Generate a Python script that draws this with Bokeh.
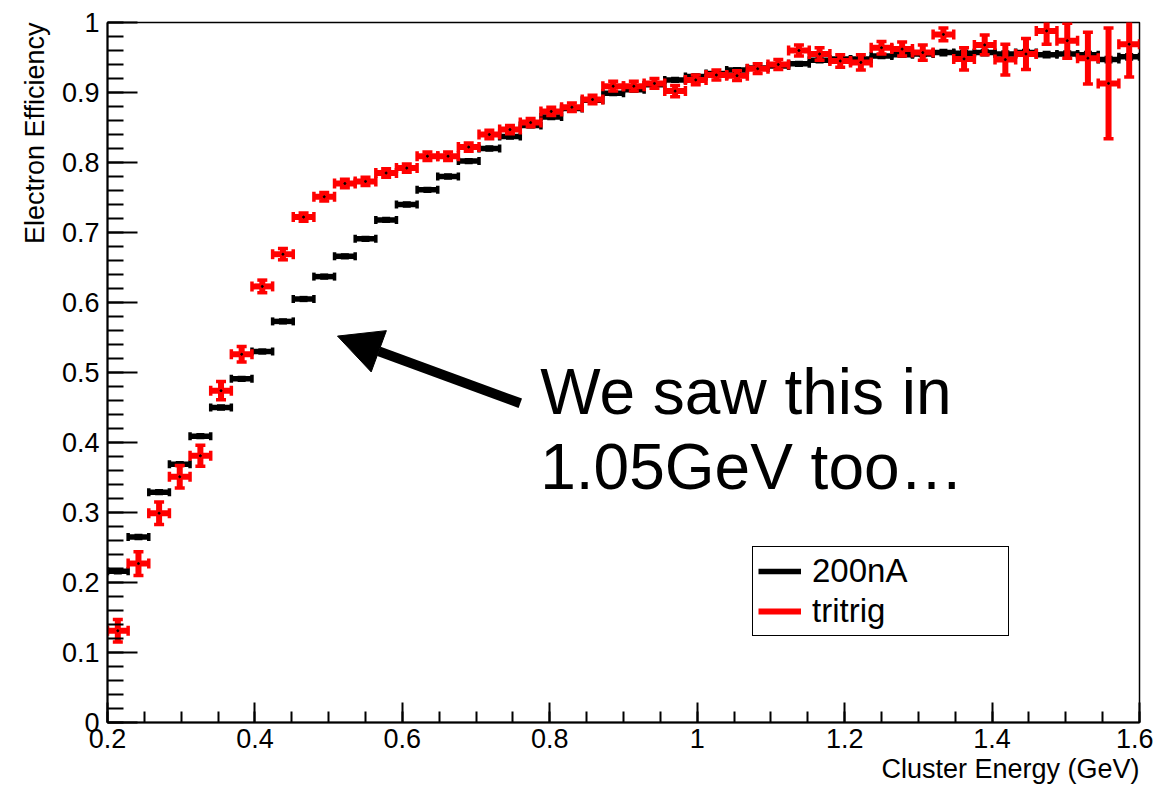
import numpy as np
from bokeh.plotting import figure
from bokeh.models import (Range1d, FixedTicker, Legend, LegendItem, Arrow, NormalHead,
                          Label, Title, ColumnDataSource)
from bokeh.embed import file_html
from bokeh.resources import INLINE

# ---------------- data ----------------
x_min, x_max, n_bins = 0.2, 1.6, 50
bin_edges = np.linspace(x_min, x_max, n_bins + 1)

eff_200nA = [0.216, 0.265, 0.329, 0.369, 0.409, 0.450, 0.491, 0.530, 0.573, 0.605,
             0.637, 0.666, 0.691, 0.718, 0.740, 0.761, 0.780, 0.802, 0.820, 0.837,
             0.853, 0.865, 0.877, 0.889, 0.899, 0.904, 0.911, 0.918, 0.923, 0.927,
             0.932, 0.935, 0.938, 0.941, 0.946, 0.948, 0.948, 0.952, 0.954, 0.955,
             0.957, 0.956, 0.957, 0.955, 0.957, 0.954, 0.955, 0.954, 0.947, 0.951]
err_200nA = [0.002] * 40 + [0.003] * 10

eff_tritrig = [0.131, 0.227, 0.299, 0.351, 0.381, 0.474, 0.526, 0.623, 0.669, 0.722,
               0.751, 0.770, 0.773, 0.785, 0.792, 0.809, 0.809, 0.822, 0.840, 0.847,
               0.857, 0.873, 0.879, 0.890, 0.909, 0.909, 0.913, 0.902, 0.918, 0.925,
               0.924, 0.934, 0.940, 0.960, 0.955, 0.945, 0.943, 0.964, 0.962, 0.957,
               0.983, 0.948, 0.968, 0.947, 0.955, 0.988, 0.974, 0.949, 0.913, 0.969]
err_tritrig = [0.016, 0.017, 0.016, 0.016, 0.015, 0.013, 0.011, 0.009, 0.008, 0.006,
               0.006, 0.006, 0.006, 0.006, 0.006, 0.006, 0.006, 0.006, 0.006, 0.006,
               0.006, 0.006, 0.006, 0.006, 0.007, 0.007, 0.007, 0.008, 0.007, 0.007,
               0.007, 0.007, 0.007, 0.008, 0.009, 0.009, 0.011, 0.009, 0.010, 0.011,
               0.009, 0.016, 0.014, 0.022, 0.022, 0.019, 0.025, 0.037, 0.079, 0.047]

x_ticks = [0.2, 0.4, 0.6, 0.8, 1.0, 1.2, 1.4, 1.6]
x_tick_labels = ["0.2", "0.4", "0.6", "0.8", "1", "1.2", "1.4", "1.6"]
y_ticks = [0.0, 0.1, 0.2, 0.3, 0.4, 0.5, 0.6, 0.7, 0.8, 0.9, 1.0]
y_tick_labels = ["0", "0.1", "0.2", "0.3", "0.4", "0.5", "0.6", "0.7", "0.8", "0.9", "1"]

series_names = ["200nA", "tritrig"]
x_title = "Cluster Energy (GeV)"
y_title = "Electron Efficiency"
note_lines = ["We saw this in", "1.05GeV too\u2026"]

FONT = "Liberation Sans"

# ---------------- figure ----------------
p = figure(width=1153, height=787, output_backend="svg", toolbar_location=None,
           x_range=Range1d(x_min, x_max), y_range=Range1d(0, 1), title=None,
           min_border_left=107, min_border_right=14, min_border_top=22, min_border_bottom=65,
           background_fill_color="white", border_fill_color="white")
p.grid.visible = False
p.outline_line_color = "black"
p.outline_line_alpha = 1.0
p.outline_line_width = 1.5

x_minor = [round(v, 3) for v in np.arange(0.2, 1.6001, 0.05)]
y_minor = [round(v, 3) for v in np.arange(0.0, 1.0001, 0.02)]

xa = p.xaxis[0]
xa.ticker = FixedTicker(ticks=x_ticks, minor_ticks=x_minor)
xa.major_label_overrides = dict(zip(x_ticks, x_tick_labels))
xa.major_tick_in = 20
xa.major_tick_out = 0
xa.minor_tick_in = 11
xa.minor_tick_out = 0
xa.major_label_standoff = 6

ya = p.yaxis[0]
ya.ticker = FixedTicker(ticks=y_ticks, minor_ticks=y_minor)
ya.major_label_overrides = dict(zip(y_ticks, y_tick_labels))
ya.major_tick_in = 30
ya.major_tick_out = 0
ya.minor_tick_in = 16
ya.minor_tick_out = 0
ya.major_label_standoff = 8

for ax in (xa, ya):
    ax.axis_line_width = 2
    ax.axis_line_color = "black"
    ax.major_tick_line_width = 2
    ax.minor_tick_line_width = 2
    ax.major_tick_line_color = "black"
    ax.minor_tick_line_color = "black"
    ax.major_label_text_font = FONT
    ax.major_label_text_font_size = "27px"
    ax.major_label_text_color = "black"

p.add_layout(Title(text=x_title, align="right", text_font=FONT, text_font_size="27px",
                   text_font_style="normal", text_color="black", standoff=3, offset=0), "below")
p.add_layout(Title(text=y_title, align="right", text_font=FONT, text_font_size="27px",
                   text_font_style="normal", text_color="black", standoff=18, offset=0), "left")

# ---------------- histograms with error bars ----------------
lows = bin_edges[:-1]
highs = bin_edges[1:]
centers = 0.5 * (lows + highs)


def draw_series(vals, errs, color, cap, lw):
    v = np.array(vals)
    e = np.array(errs)
    src = ColumnDataSource(dict(x=centers, lo=lows, hi=highs, y=v, ylo=v - e, yhi=v + e))
    h = p.segment(x0="lo", y0="y", x1="hi", y1="y", source=src, line_color=color, line_width=lw)
    p.segment(x0="x", y0="ylo", x1="x", y1="yhi", source=src, line_color=color, line_width=lw)
    for col in ("lo", "hi"):
        p.scatter(x=col, y="y", source=src, marker="dash", size=cap, angle=np.pi / 2,
                  line_color=color, line_width=3.5)
    for col in ("ylo", "yhi"):
        p.scatter(x="x", y=col, source=src, marker="dash", size=cap,
                  line_color=color, line_width=3.5)
    p.scatter(x="x", y="y", source=src, size=2, color="black")
    return h


r_black = draw_series(eff_200nA, err_200nA, "black", 8, 5.5)
r_red = draw_series(eff_tritrig, err_tritrig, "#ff0000", 10, 6)

legend = Legend(items=[LegendItem(label=series_names[0], renderers=[r_black]),
                       LegendItem(label=series_names[1], renderers=[r_red])],
                location=(645, 86), glyph_width=43, glyph_height=30, label_standoff=11,
                label_width=191, label_height=30, padding=5, spacing=2,
                label_text_font=FONT, label_text_font_size="33px", label_text_color="black",
                border_line_color="black", border_line_width=1.5, border_line_alpha=1.0,
                background_fill_color="white", background_fill_alpha=1.0)
p.add_layout(legend)

# ---------------- annotation ----------------
arrow_start = (0.760, 0.456)
arrow_end = (0.512, 0.552)
p.add_layout(Arrow(end=NormalHead(size=44, fill_color="black", line_color="black", line_width=1),
                   x_start=arrow_start[0], y_start=arrow_start[1],
                   x_end=arrow_end[0], y_end=arrow_end[1],
                   line_width=10, line_color="black"))

note_x = 0.787
note_y = [0.472, 0.365]
for txt, yy in zip(note_lines, note_y):
    p.add_layout(Label(x=note_x, y=yy, text=txt, text_font=FONT, text_font_size="64px",
                       text_color="black", text_baseline="alphabetic", text_align="left"))

open("out.html", "w").write(file_html(p, INLINE))
